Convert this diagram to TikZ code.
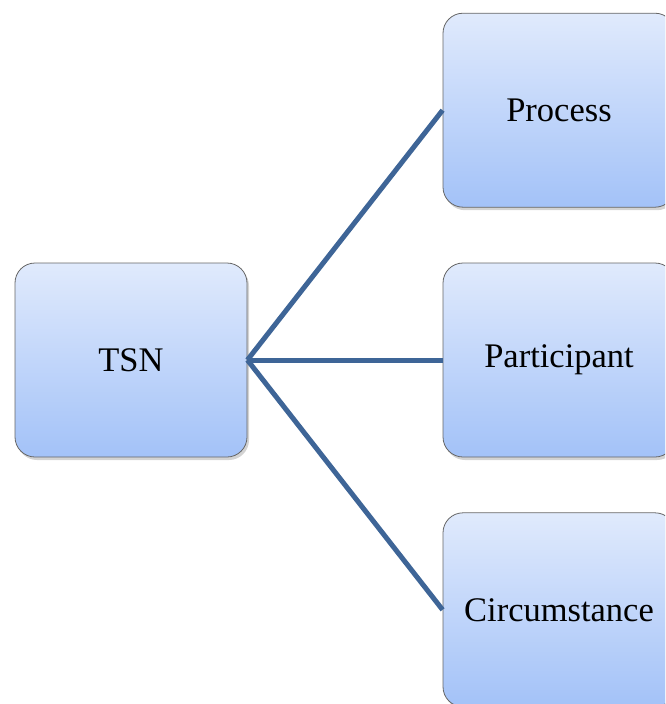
\documentclass[tikz,border=0pt]{standalone}
\usepackage{fontspec}
\setmainfont{Liberation Serif}
\usepackage{tikz}
\usetikzlibrary{positioning,shadows}

\begin{document}
\begin{tikzpicture}[
        x=1pt,y=-1pt,
        node distance=55pt
    ]
    \definecolor{boxtop}{RGB}{224,234,252}
    \definecolor{boxbot}{RGB}{163,194,248}
    \definecolor{linkc}{RGB}{62,101,151}
    \tikzset{
        box/.style={draw=gray!80!black,line width=0.8pt,rounded corners=20pt,
            minimum width=232pt,minimum height=194pt,
            top color=boxtop,bottom color=boxbot,
            font=\fontsize{34.5}{41}\selectfont,
            drop shadow={shadow xshift=2pt,shadow yshift=-3pt,opacity=0.35,fill=gray}},
        link/.style={draw=linkc,line width=5pt}
    }

    \useasboundingbox (0,0) rectangle (665,704);
    \clip (0,0) rectangle (665,704);

    \node (tsn)         [box] at (131,360)              {TSN};
    \node (participant) [box] at (559,360)              {Participant};
    \node (process)     [box,above=of participant]      {Process};
    \node (circ)        [box,below=of participant]      {Circumstance};

    \draw [link] (tsn.east) -- (process.west);
    \draw [link] (tsn.east) -- (participant.west);
    \draw [link] (tsn.east) -- (circ.west);
\end{tikzpicture}
\end{document}
